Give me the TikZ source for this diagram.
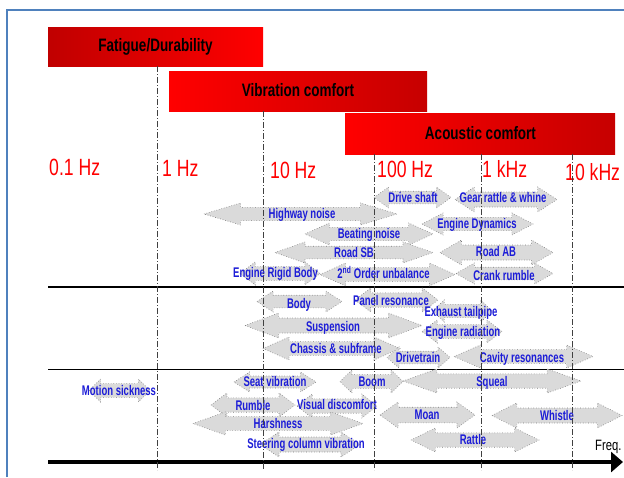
\documentclass[tikz,border=0pt]{standalone}
\usepackage{fontspec}
\newfontfamily\nar[FakeStretch=0.75]{Liberation Sans}
\newfontfamily\narb[FakeStretch=0.68]{Liberation Sans}
\usetikzlibrary{arrows.meta}
\definecolor{frameblue}{RGB}{79,129,189}
\definecolor{lblblue}{RGB}{28,28,215}
\definecolor{darkred}{RGB}{192,0,0}
\definecolor{barred}{RGB}{255,0,0}
\definecolor{arrfill}{RGB}{218,218,218}
\definecolor{arrline}{RGB}{120,120,120}
\tikzset{
  titletext/.style={font=\nar\bfseries\fontsize{18}{20}\selectfont, text=black, inner sep=0},
  freqlbl/.style={font=\nar\fontsize{23.5}{26}\selectfont, text=red, inner sep=0, anchor=base west},
  lbl/.style={font=\narb\bfseries\fontsize{14}{16}\selectfont, text=lblblue, inner sep=0, anchor=base, yshift=-0.4pt},
  garrowstyle/.style={fill=arrfill, draw=arrline, line width=0.6pt, dotted},
  divline/.style={dash pattern=on 6pt off 2pt on 1pt off 2pt, line width=0.8pt, draw=black!75},
  sepline/.style={line width=1.1pt, draw=black},
}
\newcommand\garrow[4]{%
  \pgfmathsetmacro\gaY{(#3+#4)/2}%
  \pgfmathsetmacro\gaH{(#4-#3)/2}%
  \pgfmathsetmacro\gah{0.3*(#4-#3)}%
  \pgfmathsetmacro\gaL{min(0.19*(#2-#1),1.7*(#4-#3))}%
  \draw[garrowstyle] (#1,\gaY) -- (#1+\gaL,\gaY-\gaH) -- (#1+\gaL,\gaY-\gah) -- (#2-\gaL,\gaY-\gah) -- (#2-\gaL,\gaY-\gaH) -- (#2,\gaY) -- (#2-\gaL,\gaY+\gaH) -- (#2-\gaL,\gaY+\gah) -- (#1+\gaL,\gaY+\gah) -- (#1+\gaL,\gaY+\gaH) -- cycle;}
\begin{document}
\begin{tikzpicture}[x=1pt,y=-1pt]
\useasboundingbox[fill=white] (0,0) rectangle (624,477);
% frame
\draw[frameblue, line width=2pt] (7,477) -- (7,10) -- (624,10);
% bars
\shade[left color=darkred, right color=barred] (48,27) rectangle (263,66);
\shade[left color=barred, right color=darkred!90!barred] (169,71) rectangle (427,111);
\shade[left color=barred, middle color=barred!95!darkred, right color=darkred!90!barred] (345,113) rectangle (615,154);
\node[titletext] (tFat) at (155.5,47) {Fatigue/Durability};
\node[titletext] (tVib) at (298,90) {Vibration comfort};
\node[titletext] (tAco) at (480.5,133.5) {Acoustic comfort};
% frequency labels
\node[freqlbl] (f01) at (49,175) {0.1 Hz};
\node[freqlbl] (f1) at (162,176) {1 Hz};
\node[freqlbl] (f10) at (270,178) {10 Hz};
\node[freqlbl] (f100) at (377,177) {100 Hz};
\node[freqlbl] (f1k) at (482,177) {1 kHz};
\node[freqlbl] (f10k) at (565,180) {10 kHz};
% separators
\draw[sepline] (48,287) -- (624,287);
\draw[sepline] (48,369.5) -- (624,369.5);
% arrows
\garrow{204}{397}{203}{225}
\garrow{374}{451}{187}{208}
\garrow{455}{557}{187}{212}
\garrow{422}{533}{213}{235}
\garrow{305}{433}{223}{245}
\garrow{275}{433}{242}{263}
\garrow{440}{553}{240}{265}
\garrow{240}{320}{262}{285}
\garrow{320}{455}{263}{286}
\garrow{456}{553}{263}{284}
\garrow{257}{342}{291}{312}
\garrow{355}{438}{288}{312}
\garrow{433}{492}{300}{322}
\garrow{245}{422}{313}{338}
\garrow{422}{502}{320}{343}
\garrow{263}{400}{337}{360}
\garrow{387}{450}{347}{368}
\garrow{454}{593}{345}{368}
\garrow{89}{150}{379}{402}
\garrow{234}{316}{372}{392}
\garrow{340}{403}{370}{393}
\garrow{403}{581}{369}{393}
\garrow{211}{295}{393}{417}
\garrow{297}{377}{394}{418}
\garrow{380}{475}{402}{428}
\garrow{492}{622}{403}{428}
\garrow{193}{363}{412}{435}
\garrow{260}{360}{432}{457}
\garrow{411}{539}{428}{452}
% labels
\node[lbl] (lDrive) at (413,202) {Drive shaft};
\node[lbl] (lGear) at (503,202) {Gear rattle \& whine};
\node[lbl] (lHigh) at (302,218) {Highway noise};
\node[lbl] (lEngDyn) at (477,228) {Engine Dynamics};
\node[lbl] (lBeat) at (369,238) {Beating noise};
\node[lbl] (lRoadSB) at (354,257) {Road SB};
\node[lbl] (lRoadAB) at (496,256) {Road AB};
\node[lbl] (lERB) at (275.5,277) {Engine Rigid Body};
\node[lbl] (l2nd) at (383.5,278) {2\textsuperscript{nd} Order unbalance};
\node[lbl] (lCrank) at (504,280) {Crank rumble};
\node[lbl] (lBody) at (299,308) {Body};
\node[lbl] (lPanel) at (391,305) {Panel resonance};
\node[lbl] (lExh) at (461,316) {Exhaust tailpipe};
\node[lbl] (lSusp) at (333,331) {Suspension};
\node[lbl] (lEngRad) at (463,336) {Engine radiation};
\node[lbl] (lChassis) at (336,353) {Chassis \& subframe};
\node[lbl] (lDrivetr) at (418,362) {Drivetrain};
\node[lbl] (lCavity) at (522,362) {Cavity resonances};
\node[lbl] (lMotion) at (119,395) {Motion sickness};
\node[lbl] (lSeat) at (275,386) {Seat vibration};
\node[lbl] (lBoom) at (372,386) {Boom};
\node[lbl] (lSqueal) at (492,386) {Squeal};
\node[lbl] (lRumble) at (253,410) {Rumble};
\node[lbl] (lVisual) at (337,409) {Visual discomfort};
\node[lbl] (lMoan) at (427,419) {Moan};
\node[lbl] (lWhistle) at (557,420) {Whistle};
\node[lbl] (lHarsh) at (278,428) {Harshness};
\node[lbl] (lSteer) at (306,448) {Steering column vibration};
\node[lbl] (lRattle) at (473,444) {Rattle};
% axis
\coordinate (axL) at (48,462);
\coordinate (axR) at (623,462);
\draw[line width=4.5pt, -{Triangle[length=12pt,width=20pt]}] (axL) -- (axR);
\node[font=\nar\fontsize{15}{17}\selectfont, inner sep=0, anchor=base west] (lFreq) at (595,450) {Freq.};
% decade lines
\coordinate (d1t) at (157,66);   \coordinate (d1b) at (157,470);
\coordinate (d2t) at (263,111);  \coordinate (d2b) at (263,470);
\coordinate (d3t) at (374.5,154);\coordinate (d3b) at (374.5,470);
\coordinate (d4t) at (481,154);  \coordinate (d4b) at (481,470);
\coordinate (d5t) at (572,154);  \coordinate (d5b) at (572,470);
\draw[divline] (d1t) -- (d1b);
\draw[divline] (d2t) -- (d2b);
\draw[divline] (d3t) -- (d3b);
\draw[divline] (d4t) -- (d4b);
\draw[divline] (d5t) -- (d5b);
\end{tikzpicture}
\end{document}
